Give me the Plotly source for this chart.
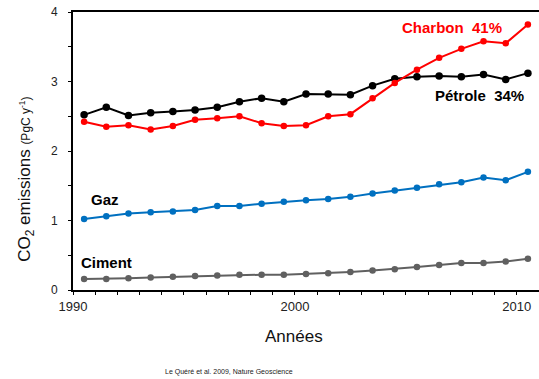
import plotly.graph_objects as go

# Fossil-fuel and cement CO2 emissions, PgC per year
years = list(range(1990, 2011))
petrole = [2.52, 2.63, 2.51, 2.55, 2.57, 2.59, 2.63, 2.71, 2.76, 2.71, 2.82,
           2.82, 2.81, 2.94, 3.04, 3.07, 3.08, 3.07, 3.10, 3.03, 3.12]
charbon = [2.42, 2.35, 2.37, 2.31, 2.36, 2.45, 2.47, 2.50, 2.40, 2.36, 2.37,
           2.50, 2.53, 2.76, 2.98, 3.17, 3.34, 3.47, 3.58, 3.55, 3.82]
gaz = [1.02, 1.06, 1.10, 1.12, 1.13, 1.15, 1.21, 1.21, 1.24, 1.27, 1.29,
       1.31, 1.34, 1.39, 1.43, 1.47, 1.52, 1.55, 1.62, 1.58, 1.70]
ciment = [0.16, 0.16, 0.17, 0.18, 0.19, 0.20, 0.21, 0.22, 0.22, 0.22, 0.23,
          0.24, 0.26, 0.28, 0.30, 0.33, 0.36, 0.39, 0.39, 0.41, 0.45]

decades = [1990, 2000, 2010]

SANS = "Liberation Sans, Arial, sans-serif"

series = [
    ("Pétrole", petrole, "#000000", 7.5),
    ("Charbon", charbon, "#ff0000", 6.5),
    ("Gaz", gaz, "#0070c0", 6.5),
    ("Ciment", ciment, "#606060", 6.5),
]

fig = go.Figure()
for name, values, color, msize in series:
    fig.add_trace(go.Scatter(
        x=years, y=values, name=name, mode="lines+markers",
        line=dict(color=color, width=2),
        marker=dict(color=color, size=msize),
        showlegend=False,
    ))

# Ticks sit on year boundaries; each point is drawn inside its year
fig.update_xaxes(
    range=[years[0] - 0.5, years[-1] + 0.5],
    tickvals=[d - 0.5 for d in decades], ticktext=[str(d) for d in decades],
    ticks="outside", ticklen=3, tickwidth=1, tickcolor="#000",
    minor=dict(tick0=years[0] - 0.5, dtick=1, ticks="outside", ticklen=3,
               tickwidth=1, tickcolor="#000"),
    showline=True, linecolor="#000", linewidth=2, mirror=True,
    showgrid=False, zeroline=False,
    tickfont=dict(family=SANS, size=13, color="#222"),
)
fig.update_yaxes(
    range=[0, 4], tick0=0, dtick=1,
    ticks="outside", ticklen=3, tickwidth=1, tickcolor="#000",
    minor=dict(dtick=0.5, ticks="outside", ticklen=3, tickwidth=1,
               tickcolor="#000"),
    showline=True, linecolor="#000", linewidth=2,
    showgrid=False, zeroline=False,
    tickfont=dict(family=SANS, size=12, color="#222"),
    ticklabelstandoff=8,
)

labels = [
    ("Charbon\u00a0\u00a041%", 2006.6, 3.775, "#ff0000"),
    ("Pétrole\u00a0\u00a034%", 2007.8, 2.795, "#000000"),
    ("Gaz", 1990.92, 1.297, "#000000"),
    ("Ciment", 1990.99, 0.40, "#000000"),
]
annotations = [
    dict(text=f"<b>{t}</b>", x=x, y=y, xref="x", yref="y", showarrow=False,
         xanchor="center", yanchor="middle",
         font=dict(family=SANS, size=15, color=c))
    for t, x, y, c in labels
]
annotations += [
    dict(text="CO<sub>2</sub> emissions <span style='font-size:12px'>(PgC y<sup>-1</sup>)</span>",
         x=-0.1009, y=0.40, xref="paper", yref="paper", textangle=-90,
         xanchor="center", yanchor="middle",
         showarrow=False, font=dict(family=SANS, size=17, color="#111")),
    dict(text="Années", x=0.4753, y=-0.169, xref="paper", yref="paper",
         xanchor="center", yanchor="middle",
         showarrow=False, font=dict(family=SANS, size=17, color="#111")),
    dict(text="Le Quéré et al. 2009, Nature Geoscience", x=0.3348, y=-0.295,
         xref="paper", yref="paper", showarrow=False,
         xanchor="center", yanchor="middle",
         font=dict(family=SANS, size=7, color="#222")),
]

fig.update_layout(
    width=539, height=379,
    margin=dict(l=73, r=0, t=12, b=89),
    paper_bgcolor="#ffffff", plot_bgcolor="#ffffff",
    annotations=annotations,
)

fig.write_html("out.html")
